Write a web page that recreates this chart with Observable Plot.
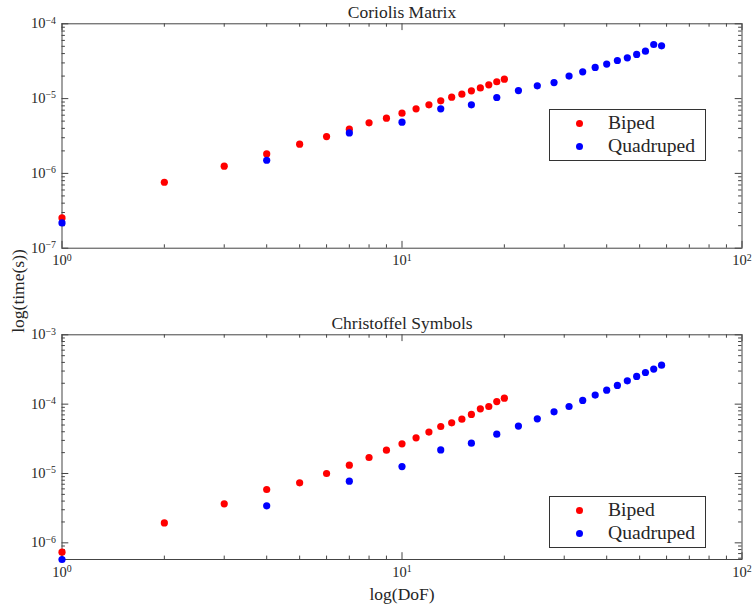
<!DOCTYPE html>
<html><head><meta charset="utf-8">
<script src="https://cdn.jsdelivr.net/npm/d3@7"></script>
<script src="https://cdn.jsdelivr.net/npm/@observablehq/plot@0.6"></script>
<style>
body{margin:0;background:#fff;}
#wrap{position:relative;width:755px;height:608px;font-family:"Liberation Serif",serif;color:#262626;overflow:hidden;}
.panel{position:absolute;left:0;}
.legend{position:absolute;left:549px;width:157px;height:52px;border:1px solid #333;background:#fff;box-sizing:border-box;}
.legend .dot{position:absolute;width:7px;height:7px;border-radius:50%;}
.legend .lab{position:absolute;left:58px;font-size:19.6px;line-height:20px;transform:translateY(-50%);white-space:nowrap;}
#ylab{position:absolute;left:17.5px;top:291px;font-size:17.5px;transform:translate(-50%,-50%) rotate(-90deg);white-space:nowrap;}
</style></head>
<body><div id="wrap"></div>
<script>
// ---- data ----
const bipedDoF = [1,2,3,4,5,6,7,8,9,10,11,12,13,14,15,16,17,18,19,20];
const quadDoF  = [1,4,7,10,13,16,19,22,25,28,31,34,37,40,43,46,49,52,55,58];
const coriolisBiped = [2.54e-7,7.62e-7,1.25e-6,1.82e-6,2.46e-6,3.11e-6,3.90e-6,4.74e-6,5.47e-6,6.38e-6,7.30e-6,8.26e-6,9.33e-6,1.045e-5,1.146e-5,1.27e-5,1.39e-5,1.53e-5,1.68e-5,1.82e-5];
const coriolisQuad  = [2.18e-7,1.50e-6,3.48e-6,4.84e-6,7.30e-6,8.26e-6,1.035e-5,1.28e-5,1.48e-5,1.64e-5,2.0e-5,2.28e-5,2.61e-5,2.89e-5,3.23e-5,3.51e-5,3.89e-5,4.31e-5,5.29e-5,5.08e-5];
const christoffelBiped = [7.33e-7,1.94e-6,3.65e-6,5.88e-6,7.33e-6,1.0e-5,1.32e-5,1.70e-5,2.17e-5,2.68e-5,3.27e-5,3.95e-5,4.76e-5,5.38e-5,6.08e-5,7.10e-5,8.57e-5,9.25e-5,1.09e-4,1.22e-4];
const christoffelQuad  = [5.75e-7,3.42e-6,7.74e-6,1.26e-5,2.19e-5,2.74e-5,3.69e-5,4.82e-5,6.14e-5,7.75e-5,9.25e-5,1.13e-4,1.35e-4,1.59e-4,1.86e-4,2.17e-4,2.51e-4,2.86e-4,3.20e-4,3.65e-4];
const seriesNames = ["Biped","Quadruped"];
const seriesColors = ["#ff0000","#0000ff"];
const titles = ["Coriolis Matrix","Christoffel Symbols"];
const xLabel = "log(DoF)";
const yLabel = "log(time(s))";
const xMajor = [1,10,100];
const xMinor = [2,3,4,5,6,7,8,9,20,30,40,50,60,70,80,90];
const yMajorTop = [1e-7,1e-6,1e-5,1e-4];
const yMinorTop = [2e-7,3e-7,4e-7,5e-7,6e-7,7e-7,8e-7,9e-7,2e-6,3e-6,4e-6,5e-6,6e-6,7e-6,8e-6,9e-6,2e-5,3e-5,4e-5,5e-5,6e-5,7e-5,8e-5,9e-5];
const yMajorBot = [1e-6,1e-5,1e-4,1e-3];
const yMinorBot = [6e-7,7e-7,8e-7,9e-7,2e-6,3e-6,4e-6,5e-6,6e-6,7e-6,8e-6,9e-6,2e-5,3e-5,4e-5,5e-5,6e-5,7e-5,8e-5,9e-5,2e-4,3e-4,4e-4,5e-4,6e-4,7e-4,8e-4,9e-4];

const fmt = d => "10^" + Math.round(Math.log10(d));
const AX = "#444";

function rows(xs, ys, name){ return xs.map((x,i)=>({x, y: ys[i], name})); }

function panel(o){
  const W = 755, ML = 61.5, MR = 13.5;
  const iw = W - ML - MR, ih = o.height - o.mt - o.mb;
  const MAJ = 6.8, MIN = 3.4;
  const data = [...rows(bipedDoF, o.biped, seriesNames[0]), ...rows(quadDoF, o.quad, seriesNames[1])];
  const marks = [
    Plot.frame({stroke: AX, strokeWidth: 1}),
    Plot.tickX(xMajor, {x: d=>d, insetTop: ih-MAJ, stroke: AX}),
    Plot.tickX(xMajor, {x: d=>d, insetBottom: ih-MAJ, stroke: AX}),
    Plot.tickX(xMinor, {x: d=>d, insetTop: ih-MIN, stroke: AX}),
    Plot.tickX(xMinor, {x: d=>d, insetBottom: ih-MIN, stroke: AX}),
    Plot.tickY(o.yMajor, {y: d=>d, insetRight: iw-MAJ, stroke: AX}),
    Plot.tickY(o.yMajor, {y: d=>d, insetLeft: iw-MAJ, stroke: AX}),
    Plot.tickY(o.yMinor, {y: d=>d, insetRight: iw-MIN, stroke: AX}),
    Plot.tickY(o.yMinor, {y: d=>d, insetLeft: iw-MIN, stroke: AX}),
    Plot.axisX(xMajor, {tickSize: 0, tickPadding: 7, tickFormat: fmt, label: null, fontSize: 14.5}),
    Plot.axisY(o.yMajor, {tickSize: 0, tickPadding: 6, tickFormat: fmt, label: null, fontSize: 14.5}),
    Plot.dot(data.filter(d=>d.name===seriesNames[0]), {x:"x", y:"y", r: 3.6, fill: seriesColors[0]}),
    Plot.dot(data.filter(d=>d.name===seriesNames[1]), {x:"x", y:"y", r: 3.6, fill: seriesColors[1]}),
    Plot.text([o.title], {text: d=>d, frameAnchor: "top", lineAnchor: "bottom", dy: -6, fontSize: 17.5})
  ];
  if (o.xlabel) marks.push(Plot.text([o.xlabel], {text: d=>d, frameAnchor: "bottom", lineAnchor: "top", dy: 28, fontSize: 17.5}));
  const svg = Plot.plot({
    width: W, height: o.height,
    marginLeft: ML, marginRight: MR, marginTop: o.mt, marginBottom: o.mb,
    x: {type: "log", domain: [1, 100]},
    y: {type: "log", domain: o.yDomain},
    style: {fontFamily: '"Liberation Serif", serif', color: "#262626", background: "transparent", overflow: "visible"},
    marks
  });
  // superscript exponents
  svg.querySelectorAll("text").forEach(t => {
    const m = t.textContent.match(/^10\^(-?\d+)$/);
    if (m) {
      t.textContent = "";
      const a = document.createElementNS("http://www.w3.org/2000/svg","tspan");
      a.textContent = "10"; t.appendChild(a);
      const b = document.createElementNS("http://www.w3.org/2000/svg","tspan");
      b.textContent = m[1].replace("-", "\u2212");
      b.setAttribute("dy", "-0.5em"); b.setAttribute("font-size", "0.68em");
      t.appendChild(b);
    }
  });
  return svg;
}

const wrap = document.getElementById("wrap");
function place(el, top){ const d = document.createElement("div"); d.className="panel"; d.style.top = top+"px"; d.appendChild(el); wrap.appendChild(d); }

place(panel({height: 300, mt: 23.3, mb: 52.3, yDomain: [1e-7, 1e-4], yMajor: yMajorTop, yMinor: yMinorTop,
  biped: coriolisBiped, quad: coriolisQuad, title: titles[0]}), 0);
place(panel({height: 308, mt: 34.3, mb: 49, yDomain: [5.75e-7, 1e-3], yMajor: yMajorBot, yMinor: yMinorBot,
  biped: christoffelBiped, quad: christoffelQuad, title: titles[1], xlabel: xLabel}), 300);

function legend(top){
  const L = document.createElement("div"); L.className = "legend"; L.style.top = top + "px";
  const rowsY = [14, 37];
  seriesNames.forEach((n,i) => {
    const dot = document.createElement("div"); dot.className = "dot";
    dot.style.left = (30 - 3.5 - 1) + "px"; dot.style.top = (rowsY[i] - 3.5 - 1) + "px"; dot.style.background = seriesColors[i];
    const lab = document.createElement("div"); lab.className = "lab"; lab.textContent = n; lab.style.top = (rowsY[i] - 1) + "px";
    L.appendChild(dot); L.appendChild(lab);
  });
  wrap.appendChild(L);
}
legend(109);
legend(496);

const yl = document.createElement("div"); yl.id = "ylab"; yl.textContent = yLabel; wrap.appendChild(yl);
</script>
</body></html>
